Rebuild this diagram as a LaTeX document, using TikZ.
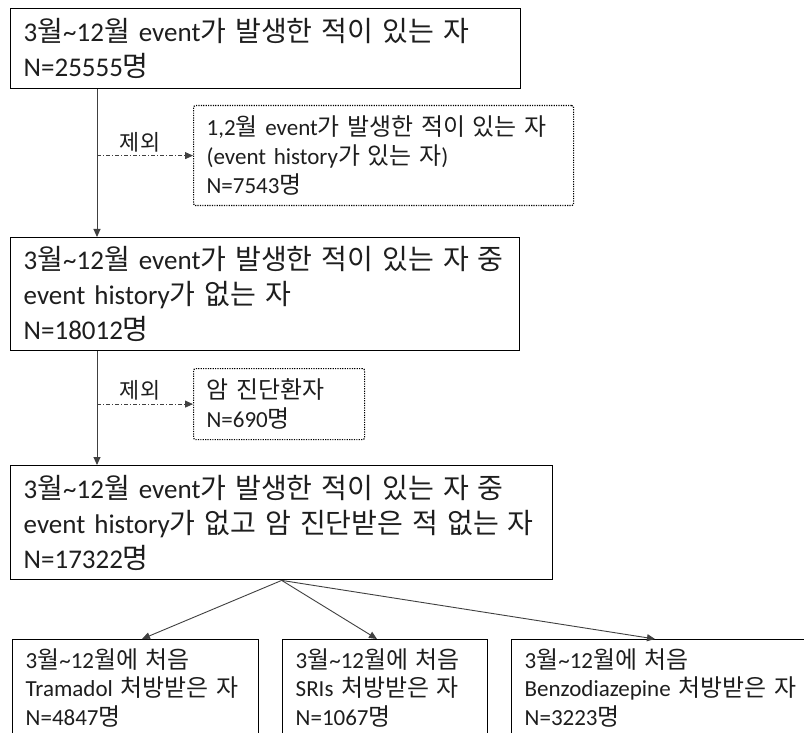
\documentclass[tikz,border=0pt]{standalone}
\usepackage{fontspec}
\setmainfont{Carlito}
\newfontfamily\krfont[Scale=1.04]{Noto Sans CJK KR}
\usetikzlibrary{arrows.meta}
\newcommand\K[1]{{\krfont #1}}
\definecolor{txt}{HTML}{1E1E1E}
\definecolor{lin}{HTML}{404040}
\tikzset{
  mainbox/.style={draw=black, line width=1.4pt, rectangle, anchor=north west, align=left,
    inner xsep=13pt, inner ysep=0pt, text=txt, font=\fontsize{27}{35}\selectfont},
  exbox/.style={draw=black, line width=1.2pt, dash pattern=on 1.2pt off 1.2pt, rounded corners=2pt,
    rectangle, anchor=north west, align=left, inner xsep=13pt, inner ysep=0pt, text=txt,
    font=\fontsize{23}{29}\selectfont},
  subbox/.style={draw=black, line width=1.4pt, rectangle, anchor=north west, align=left,
    inner xsep=13pt, inner ysep=9pt, text=txt, text depth=85pt, font=\fontsize{23}{28.5}\selectfont},
  conn/.style={draw=lin, line width=0.9pt, -{Triangle[length=8pt,width=7pt]}},
  dd/.style={draw=lin, line width=0.8pt, dash pattern=on 4pt off 2pt on 1pt off 2pt,
    -{Triangle[length=8pt,width=7pt]}},
  lbl/.style={text=txt, font=\fontsize{21}{26}\selectfont, inner sep=3pt}
}
\begin{document}
\begin{tikzpicture}[x=1pt,y=-1pt]
\fill[white] (0,0) rectangle (804,733);
\useasboundingbox (0,0) rectangle (804,733);

\node[mainbox, minimum width=510pt, text width=484pt, minimum height=80pt] (b1) at (10,8)
  {3\K{월}\textasciitilde12\K{월} event\K{가 발생한 적이 있는 자}\\N=25555\K{명}};
\node[exbox, minimum width=380pt, text width=354pt, minimum height=100pt] (e1) at (193,105)
  {1,2\K{월} event\K{가 발생한 적이 있는 자}\\(event history\K{가 있는 자})\\N=7543\K{명}};
\node[mainbox, minimum width=509pt, text width=483pt, minimum height=113pt] (b2) at (10,237)
  {3\K{월}\textasciitilde12\K{월} event\K{가 발생한 적이 있는 자 중}\\event history\K{가 없는 자}\\N=18012\K{명}};
\node[exbox, minimum width=171pt, text width=145pt, minimum height=71pt] (e2) at (193,368)
  {\K{암 진단환자}\\N=690\K{명}};
\node[mainbox, minimum width=542pt, text width=516pt, minimum height=114pt] (b3) at (10,465)
  {3\K{월}\textasciitilde12\K{월} event\K{가 발생한 적이 있는 자 중}\\event history\K{가 없고 암 진단받은 적 없는 자}\\N=17322\K{명}};
\node[subbox, minimum width=246pt, text width=220pt] (b4) at (12,639)
  {3\K{월}\textasciitilde12\K{월에 처음}\\Tramadol \K{처방받은 자}\\N=4847\K{명}};
\node[subbox, minimum width=205pt, text width=179pt] (b5) at (282,639)
  {3\K{월}\textasciitilde12\K{월에 처음}\\SRIs \K{처방받은 자}\\N=1067\K{명}};
\node[subbox, minimum width=320pt, text width=294pt] (b6) at (511,639)
  {3\K{월}\textasciitilde12\K{월에 처음}\\Benzodiazepine \K{처방받은 자}\\N=3223\K{명}};

\coordinate (v) at (97,0);
\draw[conn] (b1.south -| v) -- (b2.north -| v);
\draw[dd] (e1.west -| v) -- node[above, lbl, xshift=-5pt] {\K{제외}} (e1.west);
\draw[conn] (b2.south -| v) -- (b3.north -| v);
\draw[dd] (e2.west -| v) -- node[above, lbl, xshift=-5pt] {\K{제외}} (e2.west);
\draw[conn] (b3.south) -- ([xshift=130pt]b4.north west);
\draw[conn] (b3.south) -- ([xshift=95pt]b5.north west);
\draw[conn] (b3.south) -- ([xshift=144pt]b6.north west);
\end{tikzpicture}
\end{document}
